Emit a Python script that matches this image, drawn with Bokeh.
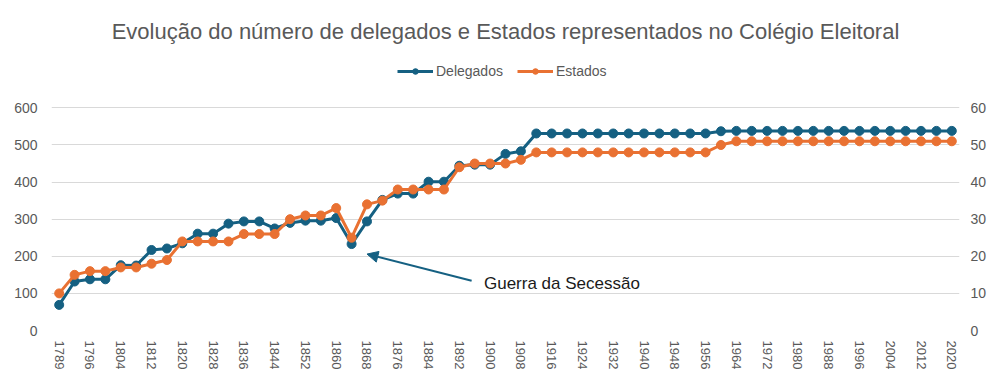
from bokeh.plotting import figure
from bokeh.models import (Range1d, LinearAxis, FixedTicker, Legend, LegendItem,
                          Arrow, NormalHead, Label)
from bokeh.embed import file_html
from bokeh.resources import INLINE

years = ["1789", "1792", "1796", "1800", "1804", "1808", "1812", "1816", "1820", "1824",
         "1828", "1832", "1836", "1840", "1844", "1848", "1852", "1856", "1860", "1864",
         "1868", "1872", "1876", "1880", "1884", "1888", "1892", "1896", "1900", "1904",
         "1908", "1912", "1916", "1920", "1924", "1928", "1932", "1936", "1940", "1944",
         "1948", "1952", "1956", "1960", "1964", "1968", "1972", "1976", "1980", "1984",
         "1988", "1992", "1996", "2000", "2004", "2008", "2012", "2016", "2020"]
delegados = [69, 132, 138, 138, 176, 175, 217, 221, 235, 261,
             261, 288, 294, 294, 275, 290, 296, 296, 303, 233,
             294, 352, 369, 369, 401, 401, 444, 447, 447, 476,
             483, 531, 531, 531, 531, 531, 531, 531, 531, 531,
             531, 531, 531, 537, 538, 538, 538, 538, 538, 538,
             538, 538, 538, 538, 538, 538, 538, 538, 538]
estados = [10, 15, 16, 16, 17, 17, 18, 19, 24, 24,
           24, 24, 26, 26, 26, 30, 31, 31, 33, 25,
           34, 35, 38, 38, 38, 38, 44, 45, 45, 45,
           46, 48, 48, 48, 48, 48, 48, 48, 48, 48,
           48, 48, 48, 50, 51, 51, 51, 51, 51, 51,
           51, 51, 51, 51, 51, 51, 51, 51, 51]
left_ticks = [0, 100, 200, 300, 400, 500, 600]
right_ticks = [0, 10, 20, 30, 40, 50, 60]
title_text = "Evolução do número de delegados e Estados representados no Colégio Eleitoral"
annotation_text = "Guerra da Secessão"

BLUE = "#156082"
ORANGE = "#E97132"
GRAY = "#595959"

xs = list(range(len(years)))
# the frame reaches above the top tick so the legend can sit inside it
headroom = 1.2667
ratio = right_ticks[-1] / left_ticks[-1]

p = figure(width=989, height=372, output_backend="svg", toolbar_location=None,
           x_range=Range1d(-0.5, len(years) - 0.5),
           y_range=Range1d(0, left_ticks[-1] * headroom),
           min_border_left=51, min_border_right=27, min_border_top=48,
           min_border_bottom=40, y_axis_location=None)
p.extra_y_ranges = {"right": Range1d(0, left_ticks[-1] * headroom * ratio)}

p.title.text = title_text
p.title.align = "center"
p.title.text_font = "Liberation Sans"
p.title.text_font_size = "22px"
p.title.text_font_style = "normal"
p.title.text_color = GRAY
p.title.standoff = 9

p.outline_line_color = None
p.xgrid.visible = False
p.ygrid.grid_line_color = "#d9d9d9"
p.ygrid.ticker = FixedTicker(ticks=left_ticks)
p.background_fill_color = "white"
p.border_fill_color = "white"

# bottom axis
xa = p.xaxis[0]
xa.ticker = FixedTicker(ticks=xs[::2])
xa.major_label_overrides = {i: years[i] for i in xs}
xa.major_label_orientation = "vertical"
xa.axis_line_color = None
xa.major_tick_line_color = None
xa.minor_tick_line_color = None
xa.major_tick_out = 0
xa.major_tick_in = 0
xa.major_label_text_font = "Liberation Sans"
xa.major_label_text_font_size = "13px"
xa.major_label_text_color = GRAY
xa.major_label_standoff = 10

for loc, rng, ticks, sto in (("left", "default", left_ticks, 14),
                             ("right", "right", right_ticks, 11)):
    ax = LinearAxis(y_range_name=rng, ticker=FixedTicker(ticks=ticks))
    ax.axis_line_color = None
    ax.major_tick_line_color = None
    ax.minor_tick_line_color = None
    ax.major_tick_out = 0
    ax.major_tick_in = 0
    ax.major_label_text_font = "Liberation Sans"
    ax.major_label_text_font_size = "14px"
    ax.major_label_text_color = GRAY
    ax.major_label_standoff = sto
    p.add_layout(ax, loc)

l1 = p.line(xs, delegados, line_color=BLUE, line_width=3)
c1 = p.scatter(xs, delegados, size=9, fill_color=BLUE, line_color=BLUE)
l2 = p.line(xs, estados, line_color=ORANGE, line_width=3, y_range_name="right")
c2 = p.scatter(xs, estados, size=9, fill_color=ORANGE, line_color=ORANGE, y_range_name="right")

legend = Legend(items=[LegendItem(label="Delegados", renderers=[l1, c1]),
                       LegendItem(label="Estados", renderers=[l2, c2])],
                orientation="horizontal", location=(346, 251),
                label_text_font="Liberation Sans", label_text_font_size="14px",
                label_text_color=GRAY, glyph_width=36, glyph_height=14,
                label_standoff=3, spacing=14, padding=4, margin=0,
                border_line_color=None, background_fill_alpha=0)
p.add_layout(legend)

# annotation pointing to the 1864 dip
i = years.index("1864")
p.add_layout(Arrow(end=NormalHead(size=11, fill_color=BLUE, line_color=BLUE),
                   x_start=i + 7.8, y_start=delegados[i] - 99,
                   x_end=i + 1.0, y_end=delegados[i] - 27,
                   line_color=BLUE, line_width=2))
p.add_layout(Label(x=i + 8.6, y=delegados[i] - 107, text=annotation_text,
                   text_font="Liberation Sans", text_font_size="17px",
                   text_color="#1a1a1a", text_baseline="middle"))

open("out.html", "w").write(file_html(p, INLINE))
